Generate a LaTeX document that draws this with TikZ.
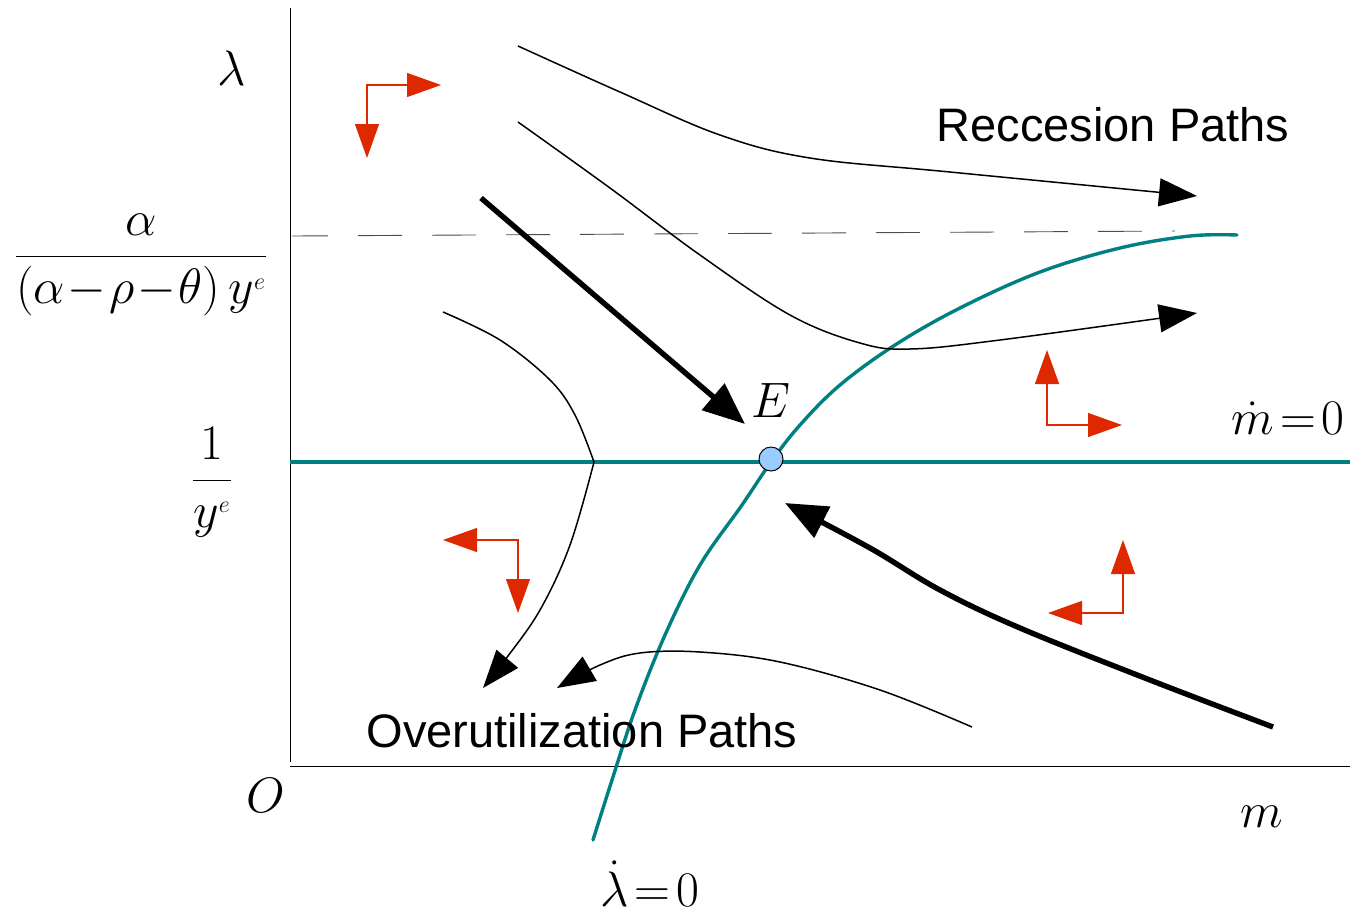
\documentclass[tikz,border=0pt]{standalone}
\usepackage{fontspec}
\setmainfont{Liberation Sans}
\usetikzlibrary{arrows.meta}
\definecolor{tealc}{RGB}{0,128,128}
\definecolor{redc}{RGB}{221,40,0}
\definecolor{eqblue}{RGB}{153,204,255}
\begin{document}
\begin{tikzpicture}[x=0.5pt,y=-0.5pt,
  axis/.style={line width=0.5pt,black},
  thinpath/.style={line width=0.75pt,-{Triangle[length=19pt,width=14pt]}},
  thickpath/.style={line width=2.7pt,-{Triangle[length=21pt,width=17pt]}},
  tealline/.style={line width=1.7pt,tealc,line cap=round},
  redarrow/.style={line width=0.6pt,redc,{Triangle[length=17pt,width=12pt]}-{Triangle[length=17pt,width=12pt]}},
  mathlbl/.style={font=\fontsize{24}{28}\selectfont,inner sep=0pt},
  txtlbl/.style={font=\fontsize{23.5}{28}\selectfont,inner sep=0pt}]
\useasboundingbox (0,0) rectangle (1366,912);
% axes
\draw[axis] (290,8) -- (290,762);
\draw[axis] (290,766) -- (1350,766);
% dashed level
\draw[line width=0.45pt,black!70,dash pattern=on 22pt off 15pt,dash phase=4pt] (292,236) -- (1175,231);
% mdot = 0
\draw[tealline,line cap=butt] (290,462) -- (1350,462);
% lambdadot = 0
\draw[tealline] plot[smooth,tension=0.6] coordinates {(593,840) (612,780) (635,710) (665,635) (700,565) (742,505) (771,462) (800,425) (840,385) (895,345) (960,308) (1040,272) (1120,248) (1190,236) (1237,235)};
% thin trajectories
\draw[thinpath] plot[smooth,tension=0.6] coordinates {(518,46) (620,92) (720,135) (810,158) (950,172) (1197,196)};
\draw[thinpath] plot[smooth,tension=0.6] coordinates {(518,122) (610,188) (700,255) (790,315) (860,343) (910,349) (1000,340) (1197,313)};
\draw[line width=0.75pt] plot[smooth,tension=0.6] coordinates {(443,312) (500,340) (550,380) (575,415) (594,462)};
\draw[thinpath] plot[smooth,tension=0.6] coordinates {(594,462) (570,545) (540,610) (505,660) (483,688)};
\draw[thinpath] plot[smooth,tension=0.6] coordinates {(972,727) (880,690) (780,662) (700,652) (640,653) (600,665) (557,688)};
% thick trajectories
\draw[thickpath] (481,198) -- (745,424);
\draw[thickpath] plot[smooth,tension=0.6] coordinates {(1273,727) (1150,680) (1020,628) (940,590) (870,548) (785,503)};
% equilibrium
\node[circle,draw=black,fill=eqblue,line width=0.5pt,minimum size=12pt,inner sep=0pt] (E) at (771,459) {};
\node[mathlbl] (Elbl) at (771,400) {$E$};
% red direction arrows
\draw[redarrow] (441,85) -- (367,85) -- (367,158);
\draw[redarrow] (1047,350) -- (1047,425) -- (1122,425);
\draw[redarrow] (443,540) -- (518,540) -- (518,613);
\draw[redarrow] (1123,540) -- (1123,613) -- (1048,613);
% labels
\node[mathlbl] (lam) at (232,68) {$\lambda$};
\node[mathlbl] (frac) at (141,265) {$\displaystyle\frac{\alpha}{(\alpha\mkern1mu{-}\mkern1mu\rho\mkern1mu{-}\mkern1mu\theta)\,y^{\scriptscriptstyle e}}$};
\node[mathlbl] (one) at (212,482) {$\displaystyle\frac{1}{y^{\scriptscriptstyle e}}$};
\node[mathlbl] (O) at (266,795) {$O$};
\node[mathlbl] (m) at (1262,817) {$m$};
\node[mathlbl] (mdot) at (1288,418) {$\dot m\mkern2mu{=}\mkern2mu0$};
\node[mathlbl] (ldot) at (650,884) {$\dot\lambda\mkern2mu{=}\mkern2mu0$};
\node[txtlbl] (rec) at (1113,125) {Reccesion Paths};
\node[txtlbl] (over) at (582,731) {Overutilization Paths};
\end{tikzpicture}
\end{document}
